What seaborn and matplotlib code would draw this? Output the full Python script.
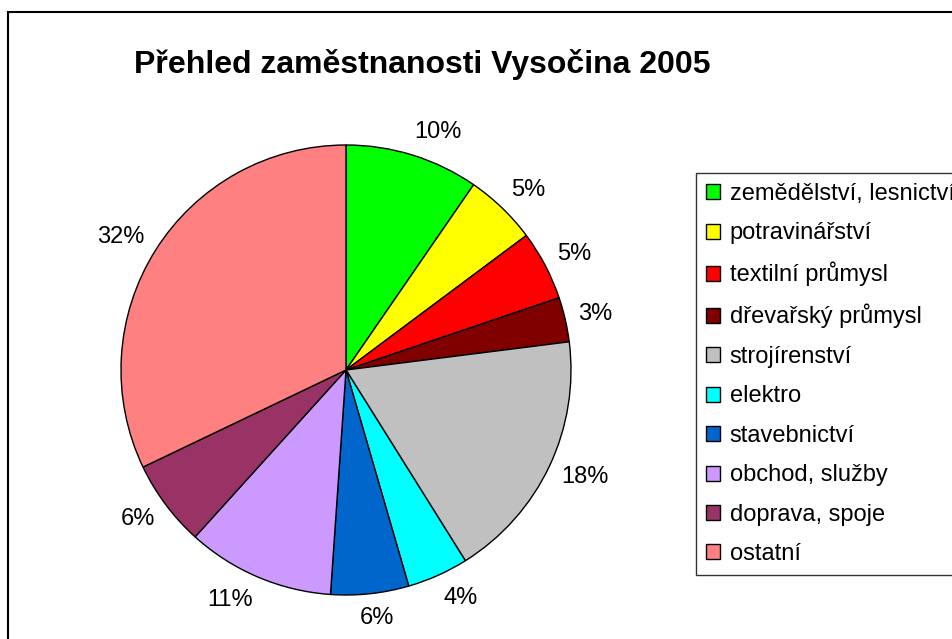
import matplotlib
matplotlib.use("Agg")
import matplotlib.pyplot as plt
import numpy as np
import seaborn as sns
from matplotlib.patches import Rectangle

# Data (share of employment, %)
sectors = ["zemědělství, lesnictví", "potravinářství", "textilní průmysl",
           "dřevařský průmysl", "strojírenství", "elektro", "stavebnictví",
           "obchod, služby", "doprava, spoje", "ostatní"]
shares = [9.6, 5.2, 5.0, 3.2, 18.1, 4.4, 5.6, 10.6, 6.2, 32.1]
colors = ["#00FF00", "#FFFF00", "#FF0000", "#800000", "#C0C0C0",
          "#00FFFF", "#0066CC", "#CC99FF", "#993366", "#FF8080"]

sns.set_theme(style="white")
plt.rcParams["font.family"] = ["Liberation Sans", "DejaVu Sans"]
plt.rcParams["text.color"] = "black"

W, H = 953, 639
fig = plt.figure(figsize=(W / 100, H / 100), dpi=100)
fig.patch.set_facecolor("white")

# pie area: centre (346, 370) px, radius 225 px
cx, cy, r = 346, 370, 225
ax = fig.add_axes([(cx - r) / W, (H - cy - r) / H, 2 * r / W, 2 * r / H])
wedges, texts, autotexts = ax.pie(
    shares, colors=colors, startangle=90, counterclock=False,
    autopct="%1.0f%%", pctdistance=1.1, radius=1,
    wedgeprops=dict(edgecolor="black", linewidth=1),
    textprops=dict(fontsize=17, color="black"))
ax.set_xlim(-1, 1)
ax.set_ylim(-1, 1)
ax.set_aspect("equal")
ax.axis("off")

# push the percentage labels outward so their near edge sits just outside the rim
fig.canvas.draw()
renderer = fig.canvas.get_renderer()
inv = ax.transData.inverted()
for w, t in zip(wedges, autotexts):
    ang = np.deg2rad((w.theta1 + w.theta2) / 2)
    c, s = np.cos(ang), np.sin(ang)
    bb = t.get_window_extent(renderer).transformed(inv)
    t.set_position((1.06 * c + bb.width / 2 * np.clip(3 * c, -1, 1),
                    1.06 * s + bb.height / 2 * s))

fig.text(422 / W, 1 - 65 / H, "Přehled zaměstnanosti Vysočina 2005",
         ha="center", va="center", fontsize=23, fontweight="bold")

leg = fig.legend(wedges, sectors, loc="upper left",
                 bbox_to_anchor=(696 / W, 1 - 173 / H), borderaxespad=0,
                 fontsize=17, frameon=True, fancybox=False, edgecolor="black",
                 handlelength=0.6, handleheight=0.6, handletextpad=0.4,
                 labelspacing=0.74, borderpad=0.42)
leg.get_frame().set_linewidth(1)

# outer chart frame (runs off the right and bottom edges)
fig.patches.append(Rectangle((8 / W, -0.1), 1.2, 1.1 - 12 / H,
                             transform=fig.transFigure, fill=False,
                             edgecolor="black", linewidth=1.5))

fig.savefig("out.png", dpi=100)
